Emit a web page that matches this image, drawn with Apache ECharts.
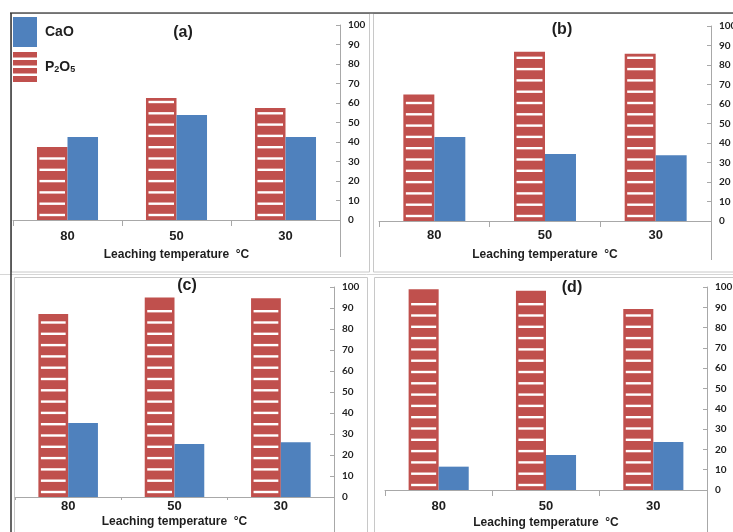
<!DOCTYPE html>
<html>
<head>
<meta charset="utf-8">
<script src="https://cdn.jsdelivr.net/npm/echarts@6/dist/echarts.min.js"></script>
<style>
  html, body { margin: 0; padding: 0; background: #fff; }
  #chart { width: 733px; height: 532px; }
</style>
</head>
<body>
<div id="chart"></div>
<script>
// Leaching temperature categories (°C) and value-axis tick labels
const categories = ['80', '50', '30'];
const yTicks = [0, 10, 20, 30, 40, 50, 60, 70, 80, 90, 100];
const panelLabels = ['(a)', '(b)', '(c)', '(d)'];

// CaO and P2O5 values for each panel, in category order 80, 50, 30
const caoA = [42.6, 53.8, 42.6];
const p2o5A = [37.4, 62.6, 57.4];
const caoB = [43.1, 34.3, 33.7];
const p2o5B = [64.9, 86.8, 85.8];
const caoC = [35.2, 25.2, 26.1];
const p2o5C = [87.1, 95.0, 94.6];
const caoD = [11.5, 17.2, 23.6];
const p2o5D = [98.9, 98.2, 89.2];

const caoSets = [caoA, caoB, caoC, caoD];
const p2o5Sets = [p2o5A, p2o5B, p2o5C, p2o5D];

const BLUE = '#4F81BD';
const RED = '#C0504D';
const AXIS = '#A8A8A8';
const TEXT = '#1E1E1E';
const BAR_RATIO = 0.28;      // each bar's share of a category band
const STRIPE_STEP = 11.3;    // distance between white stripes
const STRIPE_H = 2.4;        // white stripe thickness
const STRIPE_INSET = 2.5;    // stripe inset from the bar sides

// plot-area geometry of the four panels; tail = how far the value-axis line runs below zero
const layout = [
  { left: 13,  top: 25,  width: 327, height: 195, tail: 37, labelGap: 10, nameGap: 29, tick: 6, tx: 183, ty: 33 },
  { left: 379, top: 26,  width: 332, height: 195, tail: 39, labelGap: 8,  nameGap: 28, tick: 6, tx: 562, ty: 30 },
  { left: 15,  top: 287, width: 319, height: 210, tail: 36, labelGap: 3,  nameGap: 19, tick: 3, tx: 187, ty: 286 },
  { left: 385, top: 287, width: 322, height: 203, tail: 43, labelGap: 10, nameGap: 27, tick: 6, tx: 572, ty: 288 }
];

// side < 0 draws the bar left of the category centre, otherwise right of it
function makeRenderer(side, hatched) {
  return function (params, api) {
    const c = api.value(0);
    const v = api.value(1);
    const pTop = api.coord([c, v]);
    const pBase = api.coord([c, 0]);
    const w = api.size([1, 0])[0] * BAR_RATIO;
    const x = side < 0 ? pTop[0] - w : pTop[0];
    const y = pTop[1];
    const h = pBase[1] - pTop[1];
    const children = [{
      type: 'rect',
      shape: { x: x, y: y, width: w, height: h },
      style: { fill: hatched ? RED : BLUE }
    }];
    if (hatched) {
      for (let sy = pBase[1] - 5; sy > y + 4; sy -= STRIPE_STEP) {
        children.push({
          type: 'rect',
          shape: { x: x + STRIPE_INSET, y: sy - STRIPE_H / 2, width: w - 2 * STRIPE_INSET, height: STRIPE_H },
          style: { fill: '#FFFFFF' }
        });
      }
    }
    return { type: 'group', children: children };
  };
}

const grids = [], xAxes = [], yAxes = [], series = [], graphics = [];

layout.forEach(function (g, i) {
  grids.push({ left: g.left, top: g.top, width: g.width, height: g.height, outerBoundsMode: 'none', containLabel: false });
  xAxes.push({
    type: 'category',
    gridIndex: i,
    data: categories,
    boundaryGap: true,
    axisLine: { lineStyle: { color: AXIS, width: 1 } },
    axisTick: { show: true, length: g.tick, lineStyle: { color: AXIS } },
    axisLabel: { margin: g.labelGap, color: TEXT, fontFamily: 'Liberation Sans', fontWeight: 'bold', fontSize: 13 },
    name: 'Leaching temperature  °C',
    nameLocation: 'middle',
    nameGap: g.nameGap,
    nameTextStyle: { color: TEXT, fontFamily: 'Liberation Sans', fontWeight: 'bold', fontSize: 12 }
  });
  yAxes.push({
    type: 'value',
    gridIndex: i,
    position: 'right',
    min: 0,
    max: 100,
    interval: 10,
    splitLine: { show: false },
    axisLine: { show: true, lineStyle: { color: AXIS, width: 1 } },
    axisTick: { show: true, inside: true, length: 4, lineStyle: { color: AXIS } },
    axisLabel: { customValues: yTicks, margin: 8, color: TEXT, fontFamily: 'Lato', fontWeight: 'bold', fontSize: 10 }
  });
  series.push({
    name: 'P2O5',
    type: 'custom',
    xAxisIndex: i,
    yAxisIndex: i,
    itemStyle: { color: RED },
    encode: { x: 0, y: 1 },
    data: categories.map(function (c, k) { return [k, p2o5Sets[i][k]]; }),
    renderItem: makeRenderer(-1, true)
  });
  series.push({
    name: 'CaO',
    type: 'custom',
    xAxisIndex: i,
    yAxisIndex: i,
    itemStyle: { color: BLUE },
    encode: { x: 0, y: 1 },
    data: categories.map(function (c, k) { return [k, caoSets[i][k]]; }),
    renderItem: makeRenderer(1, false)
  });
  graphics.push({
    type: 'text',
    x: g.tx,
    y: g.ty,
    style: {
      text: panelLabels[i],
      align: 'center',
      verticalAlign: 'middle',
      fill: TEXT,
      font: 'bold 16px "Liberation Sans"'
    }
  });
  // value-axis line continues below the category axis
  const ax = g.left + g.width + 0.5;
  const zy = g.top + g.height;
  graphics.push({
    type: 'line', silent: true,
    shape: { x1: ax, y1: zy, x2: ax, y2: zy + g.tail },
    style: { stroke: AXIS, lineWidth: 1 }
  });
});

// panel frames and the surrounding sheet lines
const frames = [
  [11.5, 13.5, 358, 258.5],
  [373.5, 13.5, 362, 258.5],
  [14.5, 277.5, 353, 260],
  [374.5, 277.5, 362, 260]
];
frames.forEach(function (f) {
  graphics.push({
    type: 'rect', silent: true, z: -1,
    shape: { x: f[0], y: f[1], width: f[2], height: f[3] },
    style: { fill: null, stroke: '#C8C8C8', lineWidth: 1 }
  });
});
graphics.push({ type: 'line', silent: true, shape: { x1: 0, y1: 274.5, x2: 733, y2: 274.5 }, style: { stroke: '#D6D6D6', lineWidth: 1 } });
graphics.push({ type: 'line', silent: true, shape: { x1: 10, y1: 13, x2: 733, y2: 13 }, style: { stroke: '#555555', lineWidth: 1.5 } });
graphics.push({ type: 'line', silent: true, shape: { x1: 11, y1: 13, x2: 11, y2: 532 }, style: { stroke: '#333333', lineWidth: 1.5 } });

const stripedIcon = 'path://M0,0H24V5.5H0Z M0,8H24V13.5H0Z M0,16H24V21.5H0Z M0,24H24V30H0Z';

const chart = echarts.init(document.getElementById('chart'), null, { renderer: 'canvas' });
chart.setOption({
  animation: false,
  backgroundColor: '#FFFFFF',
  grid: grids,
  xAxis: xAxes,
  yAxis: yAxes,
  legend: {
    orient: 'vertical',
    left: 13,
    top: 17,
    padding: 0,
    itemWidth: 24,
    itemHeight: 30,
    itemGap: 5,
    selectedMode: false,
    data: [
      { name: 'CaO', icon: 'rect', itemStyle: { color: BLUE } },
      { name: 'P2O5', icon: stripedIcon, itemStyle: { color: RED } }
    ],
    formatter: function (name) {
      return name === 'P2O5' ? '{m|P}{s|2}{m|O}{s|5}' : '{m|CaO}';
    },
    textStyle: {
      padding: [0, 0, 0, 3],
      rich: {
        m: { fontFamily: 'Liberation Sans', fontWeight: 'bold', fontSize: 14, color: TEXT },
        s: { fontFamily: 'Liberation Sans', fontWeight: 'bold', fontSize: 9, color: TEXT, verticalAlign: 'bottom', padding: [4, 0, 0, 0] }
      }
    }
  },
  graphic: graphics,
  series: series
});
</script>
</body>
</html>
